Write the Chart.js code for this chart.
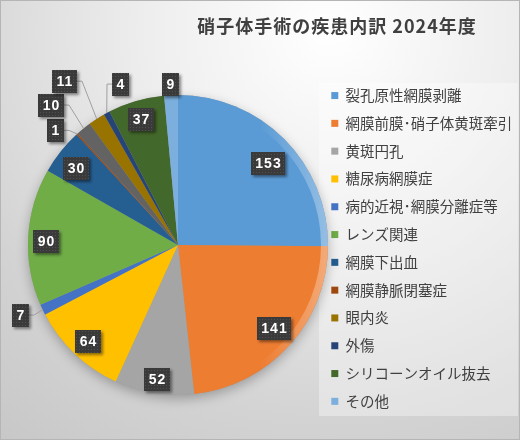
<!DOCTYPE html>
<html>
<head>
<meta charset="utf-8">
<script src="https://cdn.jsdelivr.net/npm/chart.js@4.4.1/dist/chart.umd.min.js"></script>
<style>
  html, body { margin: 0; padding: 0; background: #ffffff; }
  #wrap { width: 520px; height: 440px; }
</style>
</head>
<body>
<div id="wrap"><canvas id="pie" width="520" height="440"></canvas></div>
<script>
// Data
const chartTitle = '硝子体手術の疾患内訳 2024年度';
const categories = ['裂孔原性網膜剥離', '網膜前膜･硝子体黄斑牽引', '黄斑円孔', '糖尿病網膜症', '病的近視･網膜分離症等', 'レンズ関連', '網膜下出血', '網膜静脈閉塞症', '', '眼内炎', '外傷', 'シリコーンオイル抜去', 'その他'];
const counts = [153, 141, 52, 64, 7, 90, 30, 1, 10, 11, 4, 37, 9];
const sliceColors = ['#5B9BD5', '#ED7D31', '#A5A5A5', '#FFC000', '#4472C4', '#70AD47', '#255E91', '#9E480E', '#636363', '#997300', '#264478', '#43682B', '#7CAFDD'];

// Label placement: distance from centre (in radii) and nudge (degrees)
const labelDist = [0.81, 0.85, 0.91, 0.88, 1.15, 0.88, 0.85, 1.12, 1.26, 1.33, 1.14, 0.875, 1.07];
const labelTurn = [2.8, -1, -0.4, -0.5, 1.6, -1.4, -1.6, -4.7, -3.2, -2, 8.6, -0.1, 0];

Chart.defaults.font.family = '"Noto Sans CJK JP", sans-serif';

// dotted fill for the value boxes
const dots = document.createElement('canvas');
dots.width = 3; dots.height = 3;
const dctx = dots.getContext('2d');
dctx.fillStyle = '#3a3a3a';
dctx.fillRect(0, 0, 3, 3);
dctx.fillStyle = '#505050';
dctx.fillRect(1, 1, 1, 1);

const chartBackground = {
    id: 'chartBackground',
    beforeDraw(chart) {
        const { ctx, width, height } = chart;
        ctx.save();
        const g = ctx.createRadialGradient(330, 30, 0, 330, 30, 520);
        g.addColorStop(0, '#ffffff');
        g.addColorStop(0.35, '#eeeeee');
        g.addColorStop(0.75, '#d3d3d3');
        g.addColorStop(1, '#c8c8c8');
        ctx.fillStyle = g;
        ctx.fillRect(0, 0, width, height);

        // legend panel
        const lg = chart.legend;
        ctx.fillStyle = 'rgba(255,255,255,0.35)';
        ctx.fillRect(lg.left + 1, lg.top + 23, width - lg.left - 3, lg.bottom - lg.top - 37);

        ctx.strokeStyle = '#b5b5b5';
        ctx.lineWidth = 1;
        ctx.strokeRect(0.5, 0.5, width - 1, height - 1);

        // title
        ctx.font = 'bold 18px "Noto Sans CJK JP"';
        ctx.letterSpacing = '1px';
        ctx.fillStyle = '#404040';
        ctx.textAlign = 'center';
        ctx.textBaseline = 'middle';
        ctx.fillText(chartTitle, 337, 26);
        ctx.restore();
    }
};

const pieDecor = {
    id: 'pieDecor',
    beforeDatasetsDraw(chart) {
        const { ctx } = chart;
        const first = chart.getDatasetMeta(0).data[0];
        const { x, y, outerRadius } = first.getProps(['x', 'y', 'outerRadius'], true);
        ctx.save();
        ctx.shadowColor = 'rgba(0,0,0,0.28)';
        ctx.shadowBlur = 12;
        ctx.shadowOffsetY = 4;
        ctx.beginPath();
        ctx.arc(x, y, outerRadius, 0, Math.PI * 2);
        ctx.fillStyle = '#999999';
        ctx.fill();
        ctx.restore();
    },
    afterDatasetsDraw(chart) {
        const { ctx } = chart;
        const meta = chart.getDatasetMeta(0);
        const first = meta.data[0];
        const { x, y, outerRadius } = first.getProps(['x', 'y', 'outerRadius'], true);

        // light rim on the right side
        ctx.save();
        const rim = ctx.createLinearGradient(x + outerRadius * 0.55, 0, x + outerRadius, 0);
        rim.addColorStop(0, 'rgba(255,255,255,0)');
        rim.addColorStop(1, 'rgba(255,255,255,0.35)');
        ctx.strokeStyle = rim;
        ctx.lineWidth = 7;
        ctx.beginPath();
        ctx.arc(x, y, outerRadius - 3.5, 0, Math.PI * 2);
        ctx.stroke();
        ctx.restore();

        // value labels
        const pattern = ctx.createPattern(dots, 'repeat');
        meta.data.forEach((arc, i) => {
            const p = arc.getProps(['x', 'y', 'startAngle', 'endAngle', 'outerRadius'], true);
            const mid = (p.startAngle + p.endAngle) / 2;
            const a = mid + labelTurn[i] * Math.PI / 180;
            const cx = p.x + Math.cos(a) * p.outerRadius * labelDist[i];
            const cy = p.y + Math.sin(a) * p.outerRadius * labelDist[i];
            const text = String(counts[i]);

            ctx.save();
            ctx.font = 'bold 14px "Liberation Sans"';
            ctx.letterSpacing = '1px';
            const w = Math.round(ctx.measureText(text).width + 8);
            const h = 23;
            const bx = Math.round(cx - w / 2), by = Math.round(cy - h / 2);

            // leader line
            if (labelDist[i] > 1) {
                const ex = p.x + Math.cos(mid) * p.outerRadius;
                const ey = p.y + Math.sin(mid) * p.outerRadius;
                if (ex < bx || ex > bx + w) {
                    const sx = ex < bx ? bx : bx + w;
                    const kx = ex < bx ? sx - 5 : sx + 5;
                    ctx.strokeStyle = '#a0a0a0';
                    ctx.lineWidth = 1;
                    ctx.beginPath();
                    ctx.moveTo(sx, cy);
                    ctx.lineTo(kx, cy);
                    ctx.lineTo(ex, ey);
                    ctx.stroke();
                }
            }

            ctx.shadowColor = 'rgba(0,0,0,0.45)';
            ctx.shadowBlur = 3;
            ctx.shadowOffsetX = 2;
            ctx.shadowOffsetY = 2;
            ctx.fillStyle = pattern;
            ctx.fillRect(bx, by, w, h);
            ctx.shadowColor = 'transparent';

            ctx.fillStyle = '#ffffff';
            ctx.textAlign = 'center';
            ctx.textBaseline = 'middle';
            ctx.fillText(text, bx + w / 2 + 0.5, by + h / 2 + 1);
            ctx.restore();
        });
    }
};

new Chart(document.getElementById('pie'), {
    type: 'pie',
    data: {
        labels: categories,
        datasets: [{
            data: counts,
            backgroundColor: sliceColors,
            borderWidth: 0,
            radius: 150,
            clip: false
        }]
    },
    options: {
        responsive: false,
        animation: false,
        layout: { padding: { left: 38, right: 3, top: 60, bottom: 10 } },
        plugins: {
            title: { display: false },
            tooltip: { enabled: false },
            legend: {
                position: 'right',
                align: 'start',
                maxWidth: 199,
                // empty title only pushes the items down
                title: { display: true, text: ' ', padding: 0, font: { size: 12.5 } },
                labels: {
                    boxWidth: 7,
                    boxHeight: 7,
                    padding: 13.3,
                    color: '#404040',
                    font: { size: 14.5 },
                    filter: (item) => item.text !== ''
                }
            }
        }
    },
    plugins: [chartBackground, pieDecor]
});
</script>
</body>
</html>
